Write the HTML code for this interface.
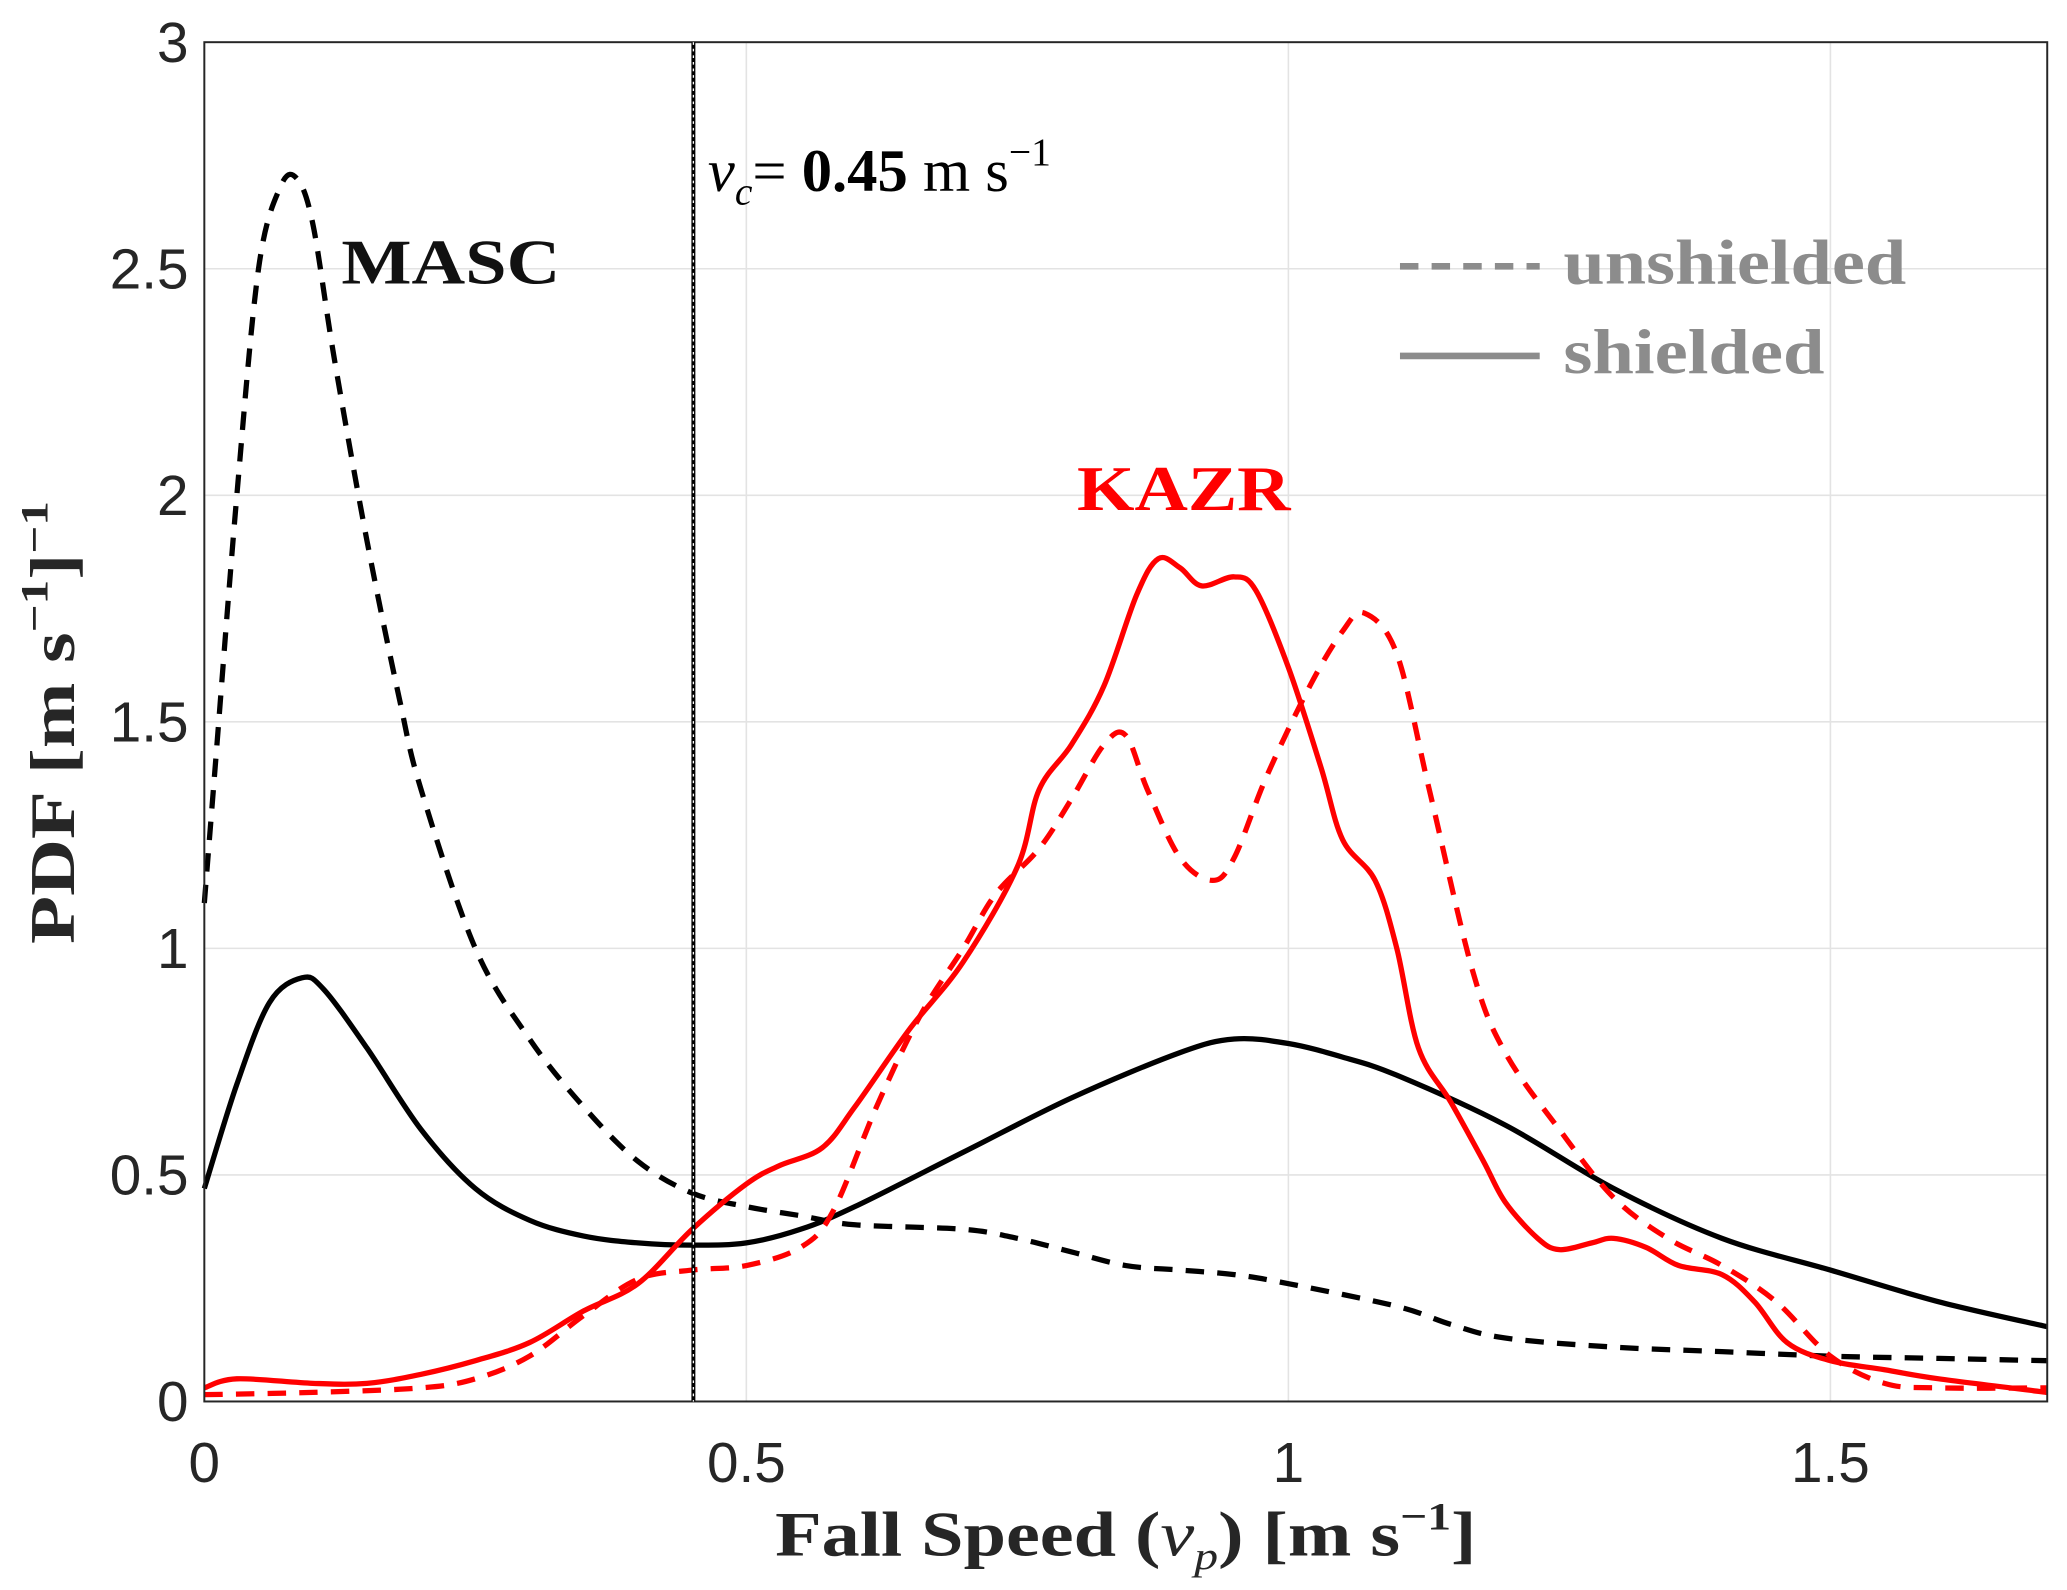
<!DOCTYPE html>
<html><head><meta charset="utf-8"><style>
html,body{margin:0;padding:0;background:#fff}
svg{display:block}
text{font-family:"Liberation Serif",serif}
.tick{font-family:"Liberation Sans",sans-serif;font-size:43px;fill:#262626}
</style></head><body>
<svg id="chart" width="2067" height="1590" viewBox="0 0 1568 1206" preserveAspectRatio="none" xmlns="http://www.w3.org/2000/svg">
<g id="grid"></g>
<g id="series"></g>
<rect x="155" y="32" width="1398" height="1031" fill="none" stroke="#262626" stroke-width="1.5"/>
<g id="ticks"></g>
<line x1="526" y1="32" x2="526" y2="1063" stroke="#000" stroke-width="3"/>
<line x1="526" y1="32" x2="526" y2="1063" stroke="#fff" stroke-width="1" stroke-dasharray="2,3"/>
<text x="537" y="145" font-size="46" fill="#000"><tspan font-style="italic">v</tspan><tspan font-size="30" dy="10" font-style="italic">c</tspan><tspan dy="-10">= </tspan><tspan font-weight="bold">0.45</tspan><tspan> m s</tspan><tspan font-size="30" dy="-20">−1</tspan></text>
<text x="259" y="215" font-size="48" font-weight="bold" fill="#111" textLength="166" lengthAdjust="spacingAndGlyphs">MASC</text>
<text x="817" y="387" font-size="48" font-weight="bold" fill="#ff0000" textLength="162" lengthAdjust="spacingAndGlyphs">KAZR</text>
<g>
<line x1="1062" y1="202" x2="1168" y2="202" stroke="#8c8c8c" stroke-width="5" stroke-dasharray="14,10"/>
<text x="1186" y="215" font-size="48" font-weight="bold" fill="#8c8c8c" textLength="260" lengthAdjust="spacingAndGlyphs">unshielded</text>
<line x1="1062" y1="270" x2="1168" y2="270" stroke="#8c8c8c" stroke-width="5"/>
<text x="1186" y="283" font-size="48" font-weight="bold" fill="#8c8c8c" textLength="198" lengthAdjust="spacingAndGlyphs">shielded</text>
</g>
<text x="588" y="1180" font-size="48" font-weight="bold" fill="#262626" textLength="532" lengthAdjust="spacingAndGlyphs">Fall Speed (<tspan font-style="italic" font-weight="normal">v</tspan><tspan font-size="30" dy="10" font-style="italic" font-weight="normal">p</tspan><tspan dy="-10">) [m s</tspan><tspan font-size="30" dy="-20">−1</tspan><tspan dy="20">]</tspan></text>
<text transform="translate(56,716) rotate(-90)" font-size="48" font-weight="bold" fill="#262626" textLength="336" lengthAdjust="spacingAndGlyphs">PDF [m s<tspan font-size="30" dy="-20">−1</tspan><tspan dy="20">]</tspan><tspan font-size="30" dy="-20">−1</tspan></text>
</svg>
<script>
const xTicks=[0,0.5,1,1.5];
const xTickLabels=["0","0.5","1","1.5"];
const yTicks=[0,0.5,1,1.5,2,2.5,3];
const yTickLabels=["0","0.5","1","1.5","2","2.5","3"];
const mascUnshX=[0,0.01,0.03,0.05,0.07,0.085,0.1,0.12,0.15,0.18,0.2,0.25,0.3,0.35,0.4,0.45,0.5,0.55,0.6,0.7,0.75,0.8,0.85,0.9,0.95,1.0,1.1,1.15,1.2,1.3,1.4,1.5,1.6,1.7];
const mascUnshY=[1.1,1.4,2.0,2.5,2.68,2.7,2.6,2.3,1.9,1.55,1.35,1.0,0.8,0.65,0.53,0.46,0.43,0.41,0.39,0.38,0.36,0.33,0.3,0.29,0.28,0.26,0.21,0.17,0.14,0.12,0.11,0.1,0.095,0.09];
const mascShX=[0,0.03,0.06,0.09,0.11,0.15,0.2,0.25,0.3,0.35,0.4,0.45,0.5,0.55,0.6,0.7,0.8,0.9,0.95,1.0,1.05,1.1,1.2,1.3,1.4,1.5,1.6,1.7];
const mascShY=[0.47,0.7,0.88,0.935,0.91,0.78,0.6,0.47,0.4,0.365,0.35,0.345,0.35,0.38,0.43,0.55,0.67,0.77,0.8,0.79,0.76,0.72,0.61,0.47,0.36,0.29,0.22,0.165];
const kazrShX=[0,0.03,0.1,0.15,0.2,0.25,0.3,0.35,0.4,0.45,0.5,0.53,0.57,0.6,0.65,0.7,0.75,0.77,0.8,0.83,0.86,0.88,0.9,0.92,0.95,0.97,1.0,1.03,1.05,1.08,1.1,1.12,1.15,1.18,1.2,1.23,1.25,1.28,1.3,1.33,1.36,1.4,1.43,1.46,1.5,1.55,1.6,1.7];
const kazrShY=[0.03,0.05,0.04,0.04,0.06,0.09,0.13,0.2,0.26,0.38,0.48,0.52,0.56,0.65,0.82,0.97,1.18,1.35,1.45,1.58,1.78,1.86,1.84,1.8,1.82,1.79,1.62,1.4,1.24,1.15,1.0,0.78,0.66,0.53,0.44,0.36,0.335,0.35,0.36,0.34,0.3,0.28,0.22,0.13,0.09,0.07,0.05,0.02];
const kazrUnshX=[0,0.1,0.2,0.25,0.3,0.35,0.4,0.45,0.5,0.55,0.58,0.62,0.66,0.7,0.73,0.77,0.8,0.83,0.85,0.87,0.9,0.93,0.95,0.98,1.02,1.05,1.07,1.1,1.13,1.17,1.2,1.25,1.3,1.35,1.4,1.45,1.5,1.55,1.6,1.7];
const kazrUnshY=[0.015,0.02,0.03,0.05,0.1,0.19,0.27,0.29,0.3,0.34,0.42,0.65,0.85,1.0,1.12,1.22,1.33,1.45,1.47,1.35,1.2,1.15,1.2,1.38,1.58,1.7,1.74,1.65,1.35,0.95,0.77,0.6,0.45,0.36,0.3,0.22,0.1,0.04,0.03,0.03];

const NS="http://www.w3.org/2000/svg";
const X0=155,X1=1553,Y0=1063,Y1=32,XMAX=1.7,YMAX=3;
function sx(v){return X0+(X1-X0)*v/XMAX;}
function sy(v){return Y0-(Y0-Y1)*v/YMAX;}
const grid=document.getElementById('grid'),ticks=document.getElementById('ticks'),series=document.getElementById('series');
xTicks.forEach((t,i)=>{
  const l=document.createElementNS(NS,'line');
  
  
  l.setAttribute('x1',sx(t));l.setAttribute('x2',sx(t));l.setAttribute('y1',Y1);l.setAttribute('y2',Y0);
  l.setAttribute('stroke','#e3e3e3');l.setAttribute('stroke-width','1.2');grid.appendChild(l);
  const tx=document.createElementNS(NS,'text');
  
  
  tx.setAttribute('class','tick');tx.setAttribute('x',sx(t));tx.setAttribute('y',1124);tx.setAttribute('text-anchor','middle');
  tx.textContent=xTickLabels[i];ticks.appendChild(tx);
});
yTicks.forEach((t,i)=>{
  const l=document.createElementNS(NS,'line');
  
  
  l.setAttribute('x1',X0);l.setAttribute('x2',X1);l.setAttribute('y1',sy(t));l.setAttribute('y2',sy(t));
  l.setAttribute('stroke','#e3e3e3');l.setAttribute('stroke-width','1.2');grid.appendChild(l);
  const tx=document.createElementNS(NS,'text');
  
  
  tx.setAttribute('class','tick');tx.setAttribute('x',143);tx.setAttribute('y',sy(t)+15);tx.setAttribute('text-anchor','end');
  tx.textContent=yTickLabels[i];ticks.appendChild(tx);
});
function pathD(xs,ys){
  const p=xs.map((x,i)=>[sx(x),sy(ys[i])]);
  let d='M'+p[0][0]+','+p[0][1];
  for(let i=0;i<p.length-1;i++){
    const a=p[i-1]||p[i],b=p[i],c=p[i+1],e=p[i+2]||c;
    const c1=[b[0]+(c[0]-a[0])/6,b[1]+(c[1]-a[1])/6],c2=[c[0]-(e[0]-b[0])/6,c[1]-(e[1]-b[1])/6];
    d+=' C'+c1+' '+c2+' '+c;
  }
  return d;
}
function addLine(xs,ys,color,dash,name){
  const p=document.createElementNS(NS,'path');
  
  
  p.setAttribute('d',pathD(xs,ys));p.setAttribute('fill','none');p.setAttribute('stroke',color);
  p.setAttribute('stroke-width','4');if(dash)p.setAttribute('stroke-dasharray','14,10');
  series.appendChild(p);
}
addLine(mascShX,mascShY,'#000',null,'masc-shielded-line');
addLine(mascUnshX,mascUnshY,'#000',true,'masc-unshielded-line');
addLine(kazrUnshX,kazrUnshY,'#ff0000',true,'kazr-unshielded-line');
addLine(kazrShX,kazrShY,'#ff0000',null,'kazr-shielded-line');
</script>
</body></html>
